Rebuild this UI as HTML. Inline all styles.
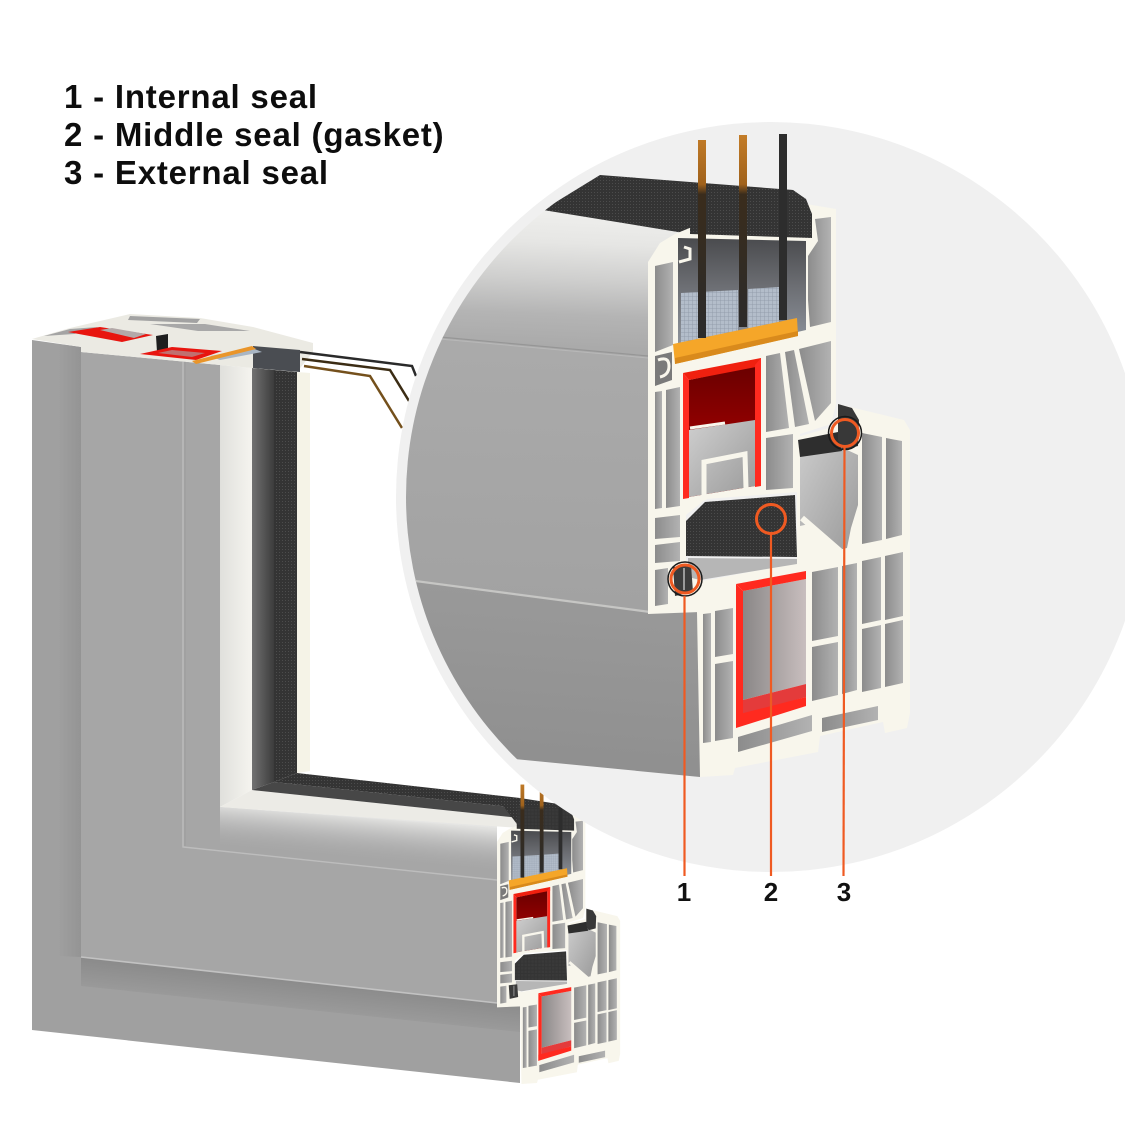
<!DOCTYPE html>
<html><head><meta charset="utf-8"><style>
html,body{margin:0;padding:0;background:#fff;}
svg{display:block;}
</style></head><body>
<svg width="1125" height="1125" viewBox="0 0 1125 1125" xmlns="http://www.w3.org/2000/svg">
<defs>
  <linearGradient id="gPocket" gradientUnits="userSpaceOnUse" x1="0" y1="238" x2="0" y2="345">
    <stop offset="0" stop-color="#4a4b4e"/><stop offset="0.45" stop-color="#6c6e73"/><stop offset="1" stop-color="#8e949d"/>
  </linearGradient>
  <linearGradient id="gBar" gradientUnits="userSpaceOnUse" x1="0" y1="134" x2="0" y2="335">
    <stop offset="0" stop-color="#c47d28"/><stop offset="0.25" stop-color="#a0621c"/><stop offset="0.3" stop-color="#3a2c1c"/><stop offset="1" stop-color="#2b2b2b"/>
  </linearGradient>
  <linearGradient id="gCell" x1="0" y1="0" x2="1" y2="0">
    <stop offset="0" stop-color="#8c8c8c"/><stop offset="1" stop-color="#b2b2b2"/>
  </linearGradient>
  <linearGradient id="gRedDark" x1="0" y1="0" x2="0" y2="1">
    <stop offset="0" stop-color="#6a0000"/><stop offset="0.7" stop-color="#a30000"/><stop offset="1" stop-color="#b00000"/>
  </linearGradient>
  <linearGradient id="gLowIn" x1="0" y1="0" x2="1" y2="0">
    <stop offset="0" stop-color="#8a8787"/><stop offset="1" stop-color="#c8bebe"/>
  </linearGradient>
  <linearGradient id="gClip" x1="0" y1="0" x2="1" y2="1">
    <stop offset="0" stop-color="#cfcfcf"/><stop offset="1" stop-color="#9a9a9a"/>
  </linearGradient>
  <linearGradient id="gWedge" x1="0" y1="0" x2="1" y2="1">
    <stop offset="0" stop-color="#cdcdcd"/><stop offset="1" stop-color="#9a9a9a"/>
  </linearGradient>
  <pattern id="mesh" width="4" height="4" patternUnits="userSpaceOnUse">
    <rect width="4" height="4" fill="#b3bdca"/><path d="M0 0H4M0 0V4" stroke="#8d97a5" stroke-width="0.8"/>
  </pattern>
  <pattern id="tex" width="3" height="3" patternUnits="userSpaceOnUse">
    <rect width="3" height="3" fill="#343434"/><rect width="1" height="1" fill="#4c4c4c"/>
  </pattern>
  <linearGradient id="gSashFace" gradientUnits="userSpaceOnUse" x1="600" y1="212" x2="585" y2="612">
    <stop offset="0" stop-color="#efefed"/><stop offset="0.08" stop-color="#e6e6e4"/><stop offset="0.17" stop-color="#cfcfce"/><stop offset="0.26" stop-color="#b4b4b4"/><stop offset="0.34" stop-color="#aaaaaa"/><stop offset="1" stop-color="#a2a2a2"/>
  </linearGradient>
  <linearGradient id="gFrameFace" gradientUnits="userSpaceOnUse" x1="520" y1="590" x2="505" y2="770">
    <stop offset="0" stop-color="#999999"/><stop offset="1" stop-color="#8f8f8f"/>
  </linearGradient>
  <linearGradient id="gLeftShade" x1="0" y1="0" x2="1" y2="0">
    <stop offset="0" stop-color="#a0a0a0"/><stop offset="1" stop-color="#949494"/>
  </linearGradient>
  <linearGradient id="gBotShade" gradientUnits="userSpaceOnUse" x1="300" y1="981" x2="296" y2="1020">
    <stop offset="0" stop-color="#8b8b8b"/><stop offset="1" stop-color="#a0a0a0"/>
  </linearGradient>
  <linearGradient id="gBeadV" x1="0" y1="0" x2="1" y2="0">
    <stop offset="0" stop-color="#e0e0dc"/><stop offset="1" stop-color="#f5f4ef"/>
  </linearGradient>
  <linearGradient id="gBandOut" x1="0" y1="0" x2="1" y2="0">
    <stop offset="0" stop-color="#727272"/><stop offset="1" stop-color="#3c3c3c"/>
  </linearGradient>
  <linearGradient id="gRound" gradientUnits="userSpaceOnUse" x1="350" y1="816" x2="346" y2="860">
    <stop offset="0" stop-color="#e4e4e2" stop-opacity="0.95"/><stop offset="0.45" stop-color="#c4c4c4" stop-opacity="0.6"/><stop offset="1" stop-color="#a6a6a6" stop-opacity="0"/>
  </linearGradient>
  <clipPath id="cc"><circle cx="771" cy="497" r="365"/></clipPath>

  <g id="sect">
    <polygon points="648,614 648,262 660,243 675,234 692,227 800,203 836,209 836,404 831,424 800,434 798,492 706,499 686,515 686,560 698,578 700,612" fill="#f8f6ec"/>
    <polygon points="697,582 797,563 797,437 836,426 838,404 904,420 910,430 910,713 907,728 885,733 883,722 820,736 818,752 735,768 733,775 700,777 697,612" fill="#f8f6ec"/>
    <polygon points="678,238 806,241 806,330 678,360" fill="url(#gPocket)"/>
    <polygon points="681,293 738,290 738,331 681,343" fill="url(#mesh)"/>
    <polygon points="748,289 779,287 779,322 748,329" fill="url(#mesh)"/>
    <polygon points="673,344 797,318 798,336 675,364" fill="#f5a629"/>
    <polygon points="675,358 798,331 798,336 675,364" fill="#d98a1c"/>
    <polygon points="690,186 793,190 806,199 812,214 812,238 690,234" fill="url(#tex)"/>
    <rect x="698" y="140" width="8" height="198" fill="url(#gBar)"/>
    <rect x="739" y="135" width="8" height="192" fill="url(#gBar)"/>
    <rect x="779" y="134" width="8" height="186" fill="#2d2d2d"/>
    <polyline points="679,262 690,259 690,249 684,247" fill="none" stroke="#f8f6ec" stroke-width="3"/>
    <g fill="url(#gCell)">
      <polygon points="815,219 831,217 831,322 810,327 808,300 808,256 818,241"/>
      <polygon points="655,266 673,262 673,345 655,352"/>
      <polygon points="655,392 662,391 662,508 655,509"/>
      <polygon points="666,390 680,387 680,506 666,508"/>
      <polygon points="655,518 680,515 680,537 655,539"/>
      <polygon points="655,545 680,542 680,561 655,563"/>
      <polygon points="655,570 668,568 668,604 655,606"/>
      <polygon points="766,356 780,353 789,428 766,432"/>
      <polygon points="785,352 794,350 809,424 795,427"/>
      <polygon points="799,349 831,341 831,403 815,421"/>
      <polygon points="766,438 793,434 793,488 766,490"/>
      <polygon points="862,433 882,437 882,540 862,544"/>
      <polygon points="886,438 902,441 902,535 886,539"/>
      <polygon points="703,614 711,613 711,742 703,743"/>
      <polygon points="715,611 733,608 733,654 715,657"/>
      <polygon points="715,664 733,661 733,738 715,741"/>
      <polygon points="812,572 838,567 838,636 812,641"/>
      <polygon points="812,647 838,642 838,695 812,701"/>
      <polygon points="842,566 857,563 857,690 842,694"/>
      <polygon points="862,561 881,557 881,620 862,624"/>
      <polygon points="885,556 903,552 903,616 885,620"/>
      <polygon points="862,629 881,625 881,688 862,692"/>
      <polygon points="885,624 903,620 903,683 885,687"/>
      <polygon points="738,737 812,715 812,731 738,752"/>
      <polygon points="822,718 878,706 878,720 822,732"/>
    </g>
    <polygon points="655,356 672,352 672,380 655,386" fill="#7a7a7a"/>
    <path d="M658,360 Q669,356 669,366 Q669,375 660,377" fill="none" stroke="#f8f6ec" stroke-width="3"/>
    <polygon points="689,380 755,366 755,486 689,497" fill="url(#gRedDark)"/>
    <polygon points="689,430 755,420 755,486 689,497" fill="url(#gClip)"/>
    <polyline points="690,428 725,423" fill="none" stroke="#f8f6ec" stroke-width="3"/>
    <polyline points="692,500 704,498 704,462 745,454 746,488" fill="none" stroke="#f8f6ec" stroke-width="5"/>
    <polygon points="683,373 761,358 761,366 689,380" fill="#f0200f"/>
    <polygon points="683,373 689,380 689,498 683,499" fill="#ff2a1f"/>
    <polygon points="755,365 761,358 761,486 755,487" fill="#ff2a1f"/>
    <polygon points="686,521 705,502 795,495 797,557 686,556" fill="url(#tex)"/>
    <polygon points="688,558 797,559 797,564 700,580 688,577" fill="#b6b6b6"/>
    <polygon points="673,567 691,565 693,592 675,596" fill="#3c3c3c"/>
    <line x1="684" y1="568" x2="684" y2="590" stroke="#9a9a9a" stroke-width="2"/>
    <polygon points="800,441 838,433 845,449 858,455 858,505 851,528 847,548 838,550 809,524 800,526" fill="url(#gWedge)"/>
    <polygon points="798,440 838,432 842,451 800,457" fill="#2e2e2e"/>
    <line x1="802" y1="518" x2="840" y2="551" stroke="#f8f6ec" stroke-width="6"/>
    <polygon points="838,404 852,408 859,420 858,446 843,450 838,440" fill="#383838"/>
    <polygon points="743,591 806,579 806,684 743,700" fill="url(#gLowIn)"/>
    <polygon points="736,584 806,571 806,579 743,591" fill="#ff2a1f"/>
    <polygon points="736,584 743,591 743,722 736,728" fill="#ff2a1f"/>
    <polygon points="743,700 806,684 806,697 743,715" fill="#e43b3b"/>
    <polygon points="736,715 806,697 806,706 736,728" fill="#ff2a1f"/>
  </g>
</defs>

<!-- ===== small window ===== -->
<polygon points="32,340 81,347 81,957 497,1003 520,1006 520,1083 32,1030" fill="#a0a0a0"/>
<polygon points="58,344 81,347 81,957 58,956" fill="url(#gLeftShade)"/>
<polygon points="81,957 497,1003 520,1006 520,1032 81,986" fill="url(#gBotShade)"/>
<polygon points="81,352 220,365 220,807 497,828 497,1003 81,957" fill="#a6a6a6"/>
<polygon points="220,807 497,826 497,872 220,852" fill="url(#gRound)"/>
<polyline points="81,957 497,1003" fill="none" stroke="#c2c2c2" stroke-width="1.6"/>
<polyline points="183,359 183,847 497,880" fill="none" stroke="#bdbdbd" stroke-width="1.4"/>
<polyline points="185,360 185,846" fill="none" stroke="#9a9a9a" stroke-width="0.8"/>
<polygon points="220,365 252,368 252,790 220,807" fill="url(#gBeadV)"/>
<polygon points="220,807 252,790 520,818 520,828" fill="#ecebe6"/>
<polygon points="252,368 274,370 274,782 252,790" fill="url(#gBandOut)"/>
<polygon points="274,370 297,372 297,773 274,782" fill="url(#tex)"/>
<polygon points="252,790 274,782 520,808 520,818" fill="#474747"/>
<polygon points="274,782 297,773 520,798 520,808" fill="url(#tex)"/>
<polygon points="297,372 310,373 310,771 297,773" fill="#f5f3e7"/>
<polygon points="32,339 70,328 130,314 200,318 253,327 313,343 313,352 297,372 252,368 220,365 81,352 81,347" fill="#ebeae3"/>
<polygon points="130,316 200,319 197,323 128,320" fill="#a2a2a2"/>
<polygon points="150,324 205,324 250,331 198,331" fill="#a8a8a8"/>
<polygon points="44,336 70,329 98,327 74,334" fill="#a4a4a4"/>
<polygon points="68,332 100,327 153,335 122,342" fill="#e8150f"/>
<polygon points="100,330 112,328 146,334 134,338" fill="#b3a8a8"/>
<polygon points="156,336 168,334 168,350 157,352" fill="#1e1e1e"/>
<polygon points="140,354 172,347 222,351 196,360" fill="#e8150f"/>
<polygon points="158,353 172,350 205,353 192,357" fill="#c07070"/>
<polygon points="253,346 300,350 300,372 253,368" fill="#4a4d52"/>
<polygon points="210,356 252,348 262,352 220,360" fill="#a9b6c4"/>
<polygon points="192,361 252,346 256,349 196,364" fill="#e9952a"/>
<polyline points="300,352 412,366 416,376" fill="none" stroke="#2a2a2a" stroke-width="2.5"/>
<polyline points="302,359 390,370 409,401" fill="none" stroke="#3b2c14" stroke-width="2.5"/>
<polyline points="304,366 370,376 402,428" fill="none" stroke="#74501c" stroke-width="2.5"/>
<polygon points="497,798 520,798 571,806 575,830 520,828" fill="url(#tex)"/>
<use href="#sect" transform="translate(192.44,718.75) scale(0.47)"/>

<!-- ===== zoom circle ===== -->
<circle cx="771" cy="497" r="375" fill="#f0f0f0"/>
<g clip-path="url(#cc)">
  <polygon points="370,189 543,210 690,228 660,243 650,262 650,612 370,575" fill="url(#gSashFace)"/>
  <polyline points="440,337 648,356" fill="none" stroke="#969696" stroke-width="1.2"/>
  <polyline points="440,339 648,358" fill="none" stroke="#b8b8b8" stroke-width="1"/>
  <polygon points="370,574 650,611 700,612 700,777 370,745" fill="url(#gFrameFace)"/>
  <polyline points="370,575 650,612" fill="none" stroke="#c6c6c4" stroke-width="2.2"/>
  <polygon points="600,175 793,190 806,200 690,234 543,210" fill="url(#tex)"/>
  <use href="#sect"/>
</g>

<g fill="none">
  <circle cx="685" cy="579" r="17" stroke="#1a1a1a" stroke-width="1.5"/>
  <circle cx="685" cy="579" r="14" stroke="#ef5a22" stroke-width="3"/>
  <circle cx="771" cy="519" r="14.5" stroke="#ef5a22" stroke-width="3"/>
  <circle cx="845" cy="433" r="16.5" stroke="#1a1a1a" stroke-width="1.5"/>
  <circle cx="845" cy="433" r="13.5" stroke="#ef5a22" stroke-width="3"/>
</g>
<g stroke="#ef5a22" stroke-width="2.2">
  <line x1="684.5" y1="596" x2="684.5" y2="876"/>
  <line x1="771" y1="534" x2="771" y2="876"/>
  <line x1="844.5" y1="447" x2="843.5" y2="876"/>
</g>
<g font-family="'Liberation Sans', Arial, sans-serif" font-weight="700" font-size="26" fill="#111" text-anchor="middle">
  <text x="684" y="901">1</text>
  <text x="771" y="901">2</text>
  <text x="844" y="901">3</text>
</g>

<g font-family="'Liberation Sans', Arial, sans-serif" font-weight="700" font-size="33" fill="#0d0d0d" letter-spacing="0.8">
  <text x="64" y="108">1 - Internal seal</text>
  <text x="64" y="146">2 - Middle seal (gasket)</text>
  <text x="64" y="184">3 - External seal</text>
</g>
</svg>
</body></html>
